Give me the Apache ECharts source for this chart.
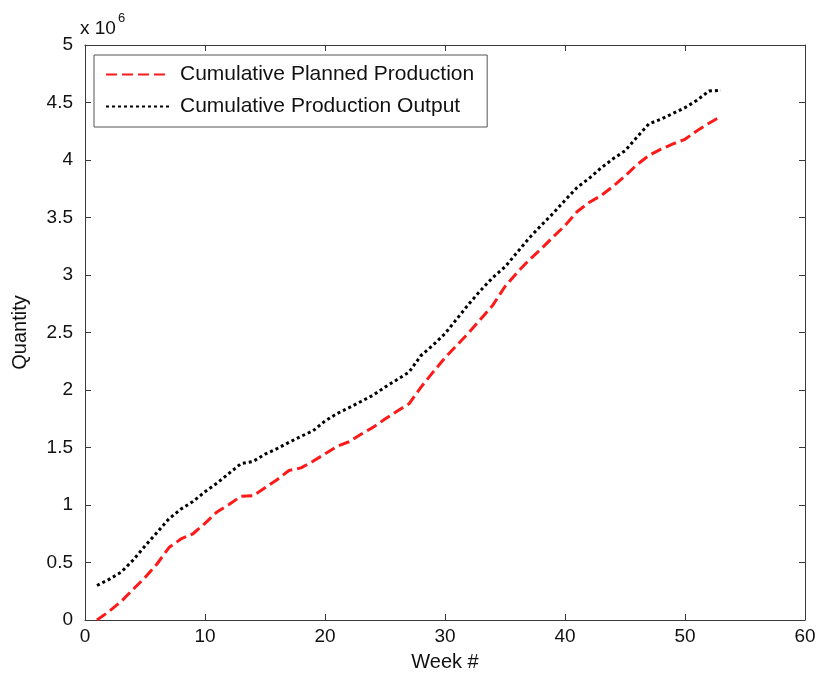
<!DOCTYPE html>
<html>
<head>
<meta charset="utf-8">
<script src="https://cdn.jsdelivr.net/npm/echarts@6/dist/echarts.min.js"></script>
<style>
  html, body { margin: 0; padding: 0; background: #ffffff; }
  #chart { width: 822px; height: 677px; }
</style>
</head>
<body>
<div id="chart"></div>
<script>
// Week numbers
const weeks = [1,2,3,4,5,6,7,8,9,10,11,12,13,14,15,16,17,18,19,20,21,22,23,24,25,26,27,28,29,30,31,32,33,34,35,36,37,38,39,40,41,42,43,44,45,46,47,48,49,50,51,52,53];

// Cumulative planned production (units)
const plannedProduction = [
  0, 74000, 160000, 265000, 370000, 487000, 630000, 705000, 750000, 840000,
  940000, 1005000, 1076000, 1080000, 1150000, 1220000, 1300000, 1323000, 1380000, 1445000,
  1510000, 1550000, 1615000, 1675000, 1747000, 1815000, 1880000, 2025000, 2155000, 2280000,
  2390000, 2500000, 2620000, 2740000, 2900000, 3020000, 3130000, 3225000, 3330000, 3430000,
  3550000, 3630000, 3690000, 3770000, 3860000, 3960000, 4040000, 4095000, 4140000, 4180000,
  4255000, 4320000, 4380000
];

// Cumulative production output (units)
const productionOutput = [
  300000, 353000, 415000, 520000, 643000, 760000, 880000, 965000, 1030000, 1115000,
  1190000, 1275000, 1360000, 1378000, 1442000, 1490000, 1545000, 1597000, 1645000, 1730000,
  1795000, 1846000, 1900000, 1955000, 2025000, 2090000, 2155000, 2300000, 2390000, 2490000,
  2620000, 2750000, 2870000, 2980000, 3070000, 3195000, 3320000, 3430000, 3535000, 3650000,
  3760000, 3840000, 3930000, 4010000, 4080000, 4200000, 4315000, 4355000, 4405000, 4455000,
  4520000, 4600000, 4605000
];

// Axis ticks
const xTicks = [0, 10, 20, 30, 40, 50, 60];
const yTicks = [0, 0.5, 1, 1.5, 2, 2.5, 3, 3.5, 4, 4.5, 5];
const yScale = 1e6;

const seriesNames = ['Cumulative Planned Production', 'Cumulative Production Output'];

const chart = echarts.init(document.getElementById('chart'), null, { renderer: 'canvas' });
const font = 'Liberation Sans, Arial, Helvetica, sans-serif';
const axisColor = '#3a3a3a';

const makePairs = (xs, ys) => xs.map((x, i) => [x, ys[i]]);

const option = {
  backgroundColor: '#ffffff',
  animation: false,
  textStyle: { fontFamily: font },
  grid: { left: 85, right: 17, top: 45, bottom: 57, containLabel: false },
  legend: {
    orient: 'vertical',
    left: 94,
    top: 55,
    padding: [9, 13, 10, 11],
    itemGap: 11,
    itemWidth: 63,
    itemHeight: 12,
    backgroundColor: '#ffffff',
    borderColor: '#555555',
    borderWidth: 1,
    borderRadius: 0,
    itemStyle: { color: 'rgba(0,0,0,0)', borderWidth: 0, opacity: 0 },
    textStyle: { fontFamily: font, fontSize: 21, color: '#111111', padding: [0, 0, 0, 6] },
    data: seriesNames
  },
  graphic: [
    {
      type: 'text',
      left: 80,
      top: 12,
      style: {
        text: '{b|x 10}{s|6}',
        rich: {
          b: { fontFamily: font, fontSize: 19, fill: '#111111', verticalAlign: 'bottom', lineHeight: 26 },
          s: { fontFamily: font, fontSize: 13, fill: '#111111', verticalAlign: 'top', lineHeight: 26, padding: [0, 0, 10, 2] }
        }
      }
    }
  ],
  xAxis: [
    {
      type: 'value',
      min: 0, max: 60, interval: 10,
      position: 'bottom',
      name: 'Week #',
      nameLocation: 'middle',
      nameGap: 32,
      nameTextStyle: { fontFamily: font, fontSize: 20, color: '#111111' },
      axisLine: { show: true, onZero: false, lineStyle: { color: axisColor, width: 1 } },
      axisTick: { show: true, inside: true, length: 6, lineStyle: { color: axisColor } },
      axisLabel: { fontFamily: font, fontSize: 19, color: '#111111', margin: 7,
        formatter: v => xTicks.includes(v) ? String(v) : '' },
      splitLine: { show: false }
    },
    {
      type: 'value',
      min: 0, max: 60, interval: 10,
      position: 'top',
      axisLine: { show: true, onZero: false, lineStyle: { color: axisColor, width: 1 } },
      axisTick: { show: true, inside: true, length: 6, lineStyle: { color: axisColor } },
      axisLabel: { show: false },
      splitLine: { show: false }
    }
  ],
  yAxis: [
    {
      type: 'value',
      min: 0, max: 5 * yScale, interval: 0.5 * yScale,
      position: 'left',
      name: 'Quantity',
      nameLocation: 'middle',
      nameGap: 55,
      nameTextStyle: { fontFamily: font, fontSize: 20, color: '#111111' },
      axisLine: { show: true, onZero: false, lineStyle: { color: axisColor, width: 1 } },
      axisTick: { show: true, inside: true, length: 6, lineStyle: { color: axisColor } },
      axisLabel: { fontFamily: font, fontSize: 19, color: '#111111', margin: 12,
        formatter: v => { const t = v / yScale; return yTicks.some(k => Math.abs(k - t) < 1e-9) ? String(Math.round(t * 10) / 10) : ''; } },
      splitLine: { show: false }
    },
    {
      type: 'value',
      min: 0, max: 5 * yScale, interval: 0.5 * yScale,
      position: 'right',
      axisLine: { show: true, onZero: false, lineStyle: { color: axisColor, width: 1 } },
      axisTick: { show: true, inside: true, length: 6, lineStyle: { color: axisColor } },
      axisLabel: { show: false },
      splitLine: { show: false }
    }
  ],
  series: [
    {
      name: seriesNames[0],
      type: 'line',
      xAxisIndex: 0, yAxisIndex: 0,
      data: makePairs(weeks, plannedProduction),
      symbol: 'none',
      smooth: false,
      lineStyle: { color: '#ff1a1a', width: 3, type: [11, 5] },
      itemStyle: { color: '#ff1a1a' },
      z: 3
    },
    {
      name: seriesNames[1],
      type: 'line',
      xAxisIndex: 0, yAxisIndex: 0,
      data: makePairs(weeks, productionOutput),
      symbol: 'none',
      smooth: false,
      lineStyle: { color: '#000000', width: 3, type: [3, 3] },
      itemStyle: { color: '#000000' },
      z: 3
    }
  ]
};

chart.setOption(option);
</script>
</body>
</html>
